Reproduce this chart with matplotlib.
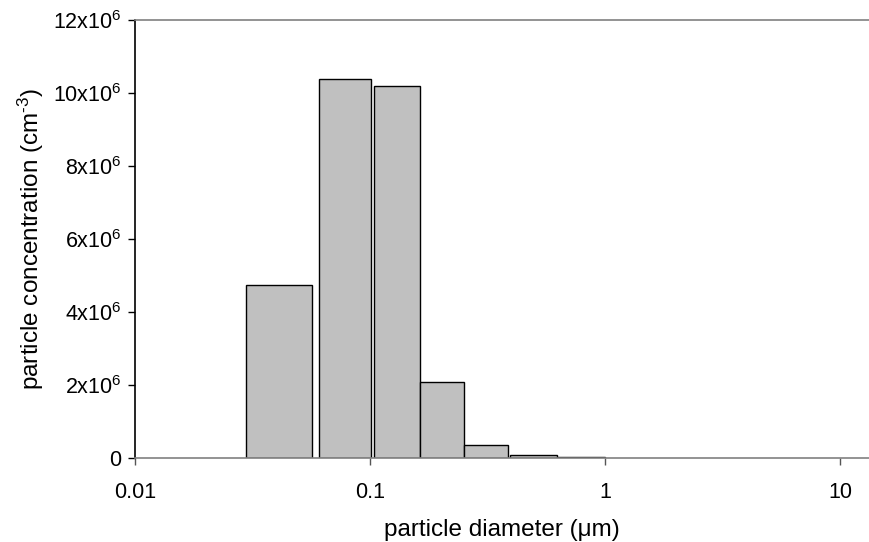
import numpy as np
import matplotlib
matplotlib.use("Agg")
import matplotlib.pyplot as plt
from matplotlib.ticker import FixedLocator, NullLocator

plt.rcParams['font.family'] = ['Liberation Sans', 'DejaVu Sans']
plt.rcParams['mathtext.fontset'] = 'custom'
plt.rcParams['mathtext.rm'] = 'Liberation Sans'
plt.rcParams['mathtext.it'] = 'Liberation Sans:italic'

# bornes des classes de diametre (um) et concentrations (cm-3)
bin_left = [0.0298, 0.0605, 0.104, 0.1626, 0.251, 0.393, 0.622]
bin_right = [0.0566, 0.101, 0.1626, 0.251, 0.388, 0.622, 1.0]
conc = [4.73e6, 10.38e6, 10.19e6, 2.08e6, 0.356e6, 0.074e6, 0.02e6]

x_ticks = [0.01, 0.1, 1, 10]
x_labels = ['0.01', '0.1', '1', '10']
y_ticks = [0, 2e6, 4e6, 6e6, 8e6, 10e6, 12e6]
y_labels = ['0'] + [r'$\mathregular{%dx10^6}$' % v for v in [2, 4, 6, 8, 10, 12]]

fig = plt.figure(figsize=(8.69, 5.42), dpi=100)
ax = fig.add_axes([135/869, 1-458/542, 1-135/869, (458-20)/542])

widths = np.array(bin_right) - np.array(bin_left)
ax.bar(bin_left, conc, width=widths, align='edge', color='#c0c0c0',
       edgecolor='black', linewidth=1.0, zorder=2)

ax.set_xscale('log')
ax.set_xlim(0.01, 10**(-2 + (869-135)/235.07))
ax.set_ylim(0, 12e6)

ax.xaxis.set_major_locator(FixedLocator(x_ticks))
ax.xaxis.set_minor_locator(NullLocator())
ax.set_xticklabels(x_labels)
ax.set_yticks(y_ticks)
ax.set_yticklabels(y_labels)

ax.tick_params(axis='both', direction='out', length=5, width=1, labelsize=15.5)
ax.tick_params(axis='x', pad=12, colors='#555555', labelcolor='black')
ax.tick_params(axis='y', pad=5)

ax.spines['right'].set_visible(False)
ax.spines['top'].set_color('#808080')
ax.spines['bottom'].set_color('#808080')
ax.spines['left'].set_color('black')
for s in ax.spines.values():
    s.set_linewidth(1.2)
    s.set_zorder(3)

ax.set_xlabel(u'particle diameter (\u03bcm)', fontsize=17.5, labelpad=12)
ax.set_ylabel(u'particle concentration (cm$^{\\mathregular{\u20103}}$)', fontsize=17.5, labelpad=5)

fig.savefig('out.png', dpi=100)
